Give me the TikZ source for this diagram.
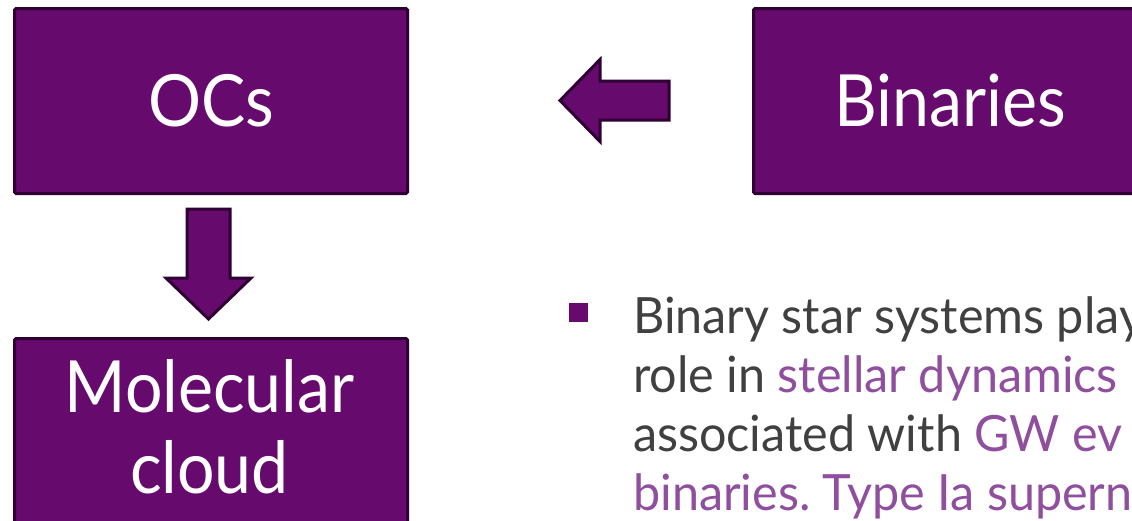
\documentclass[tikz,border=0pt]{standalone}
\usepackage{fontspec}
\setmainfont{Lato}
\newfontfamily\gsfont[FakeStretch=0.92]{Lato}
\newfontfamily\bodyfont[FakeStretch=0.97]{Lato}
\definecolor{boxfill}{HTML}{660A6E}
\definecolor{boxline}{HTML}{2E0033}
\definecolor{bodygray}{HTML}{404040}
\definecolor{hilite}{HTML}{8F4F9E}
\frenchspacing
\begin{document}
\begin{tikzpicture}[x=1pt,y=-1pt,
  box/.style={draw=boxline, line width=3pt, fill=boxfill, rounded corners=1.5pt, inner sep=0pt},
  boxtext/.style={text=white, font=\gsfont\fontsize{72}{81}\selectfont, inner sep=0pt},
  blockarrow/.style={draw=boxline, line width=3pt, fill=boxfill, line join=miter},
  bodyline/.style={anchor=base west, inner sep=0pt, text=bodygray, font=\bodyfont\fontsize{50}{59}\selectfont},
  hl/.style={text=hilite}]
\useasboundingbox (0,0) rectangle (1132,520);
\clip (0,0) rectangle (1132,520);

\node[box, boxtext, minimum width=393pt, minimum height=185pt, anchor=north west] (ocs) at (13,7) {OCs};
\node[box, boxtext, minimum width=393pt, minimum height=185pt, anchor=north west] (bin) at (752,7) {Binaries};
\node[box, minimum width=393pt, minimum height=250pt, anchor=north west] (mc) at (13,337) {};
\node[boxtext, anchor=base] (mc1) at (209.5,412) {Molecular};
\node[boxtext, anchor=base] (mc2) at (209.5,493) {cloud};

% block arrow Binaries -> OCs
\draw[blockarrow] (560,100.5) -- (600,59.5) -- (600,81) -- (669,81) -- (669,120) -- (600,120) -- (600,141.5) -- cycle;
% block arrow OCs -> Molecular cloud
\draw[blockarrow] (208.5,319) -- (166,278) -- (187,278) -- (187,209) -- (230,209) -- (230,278) -- (251,278) -- cycle;

% bullet
\fill[boxfill] (569,303) rectangle (588,322);

\node[bodyline] (l1) at (633,333) {Binary star systems play};
\node[bodyline] (l2) at (633,392) {role in \textcolor{hilite}{stellar dynamics}};
\node[bodyline] (l3) at (633,451) {associated with \textcolor{hilite}{GW ev}};
\node[bodyline, hl] (l4) at (633,510) {binaries. Type Ia superno};
\end{tikzpicture}
\end{document}
